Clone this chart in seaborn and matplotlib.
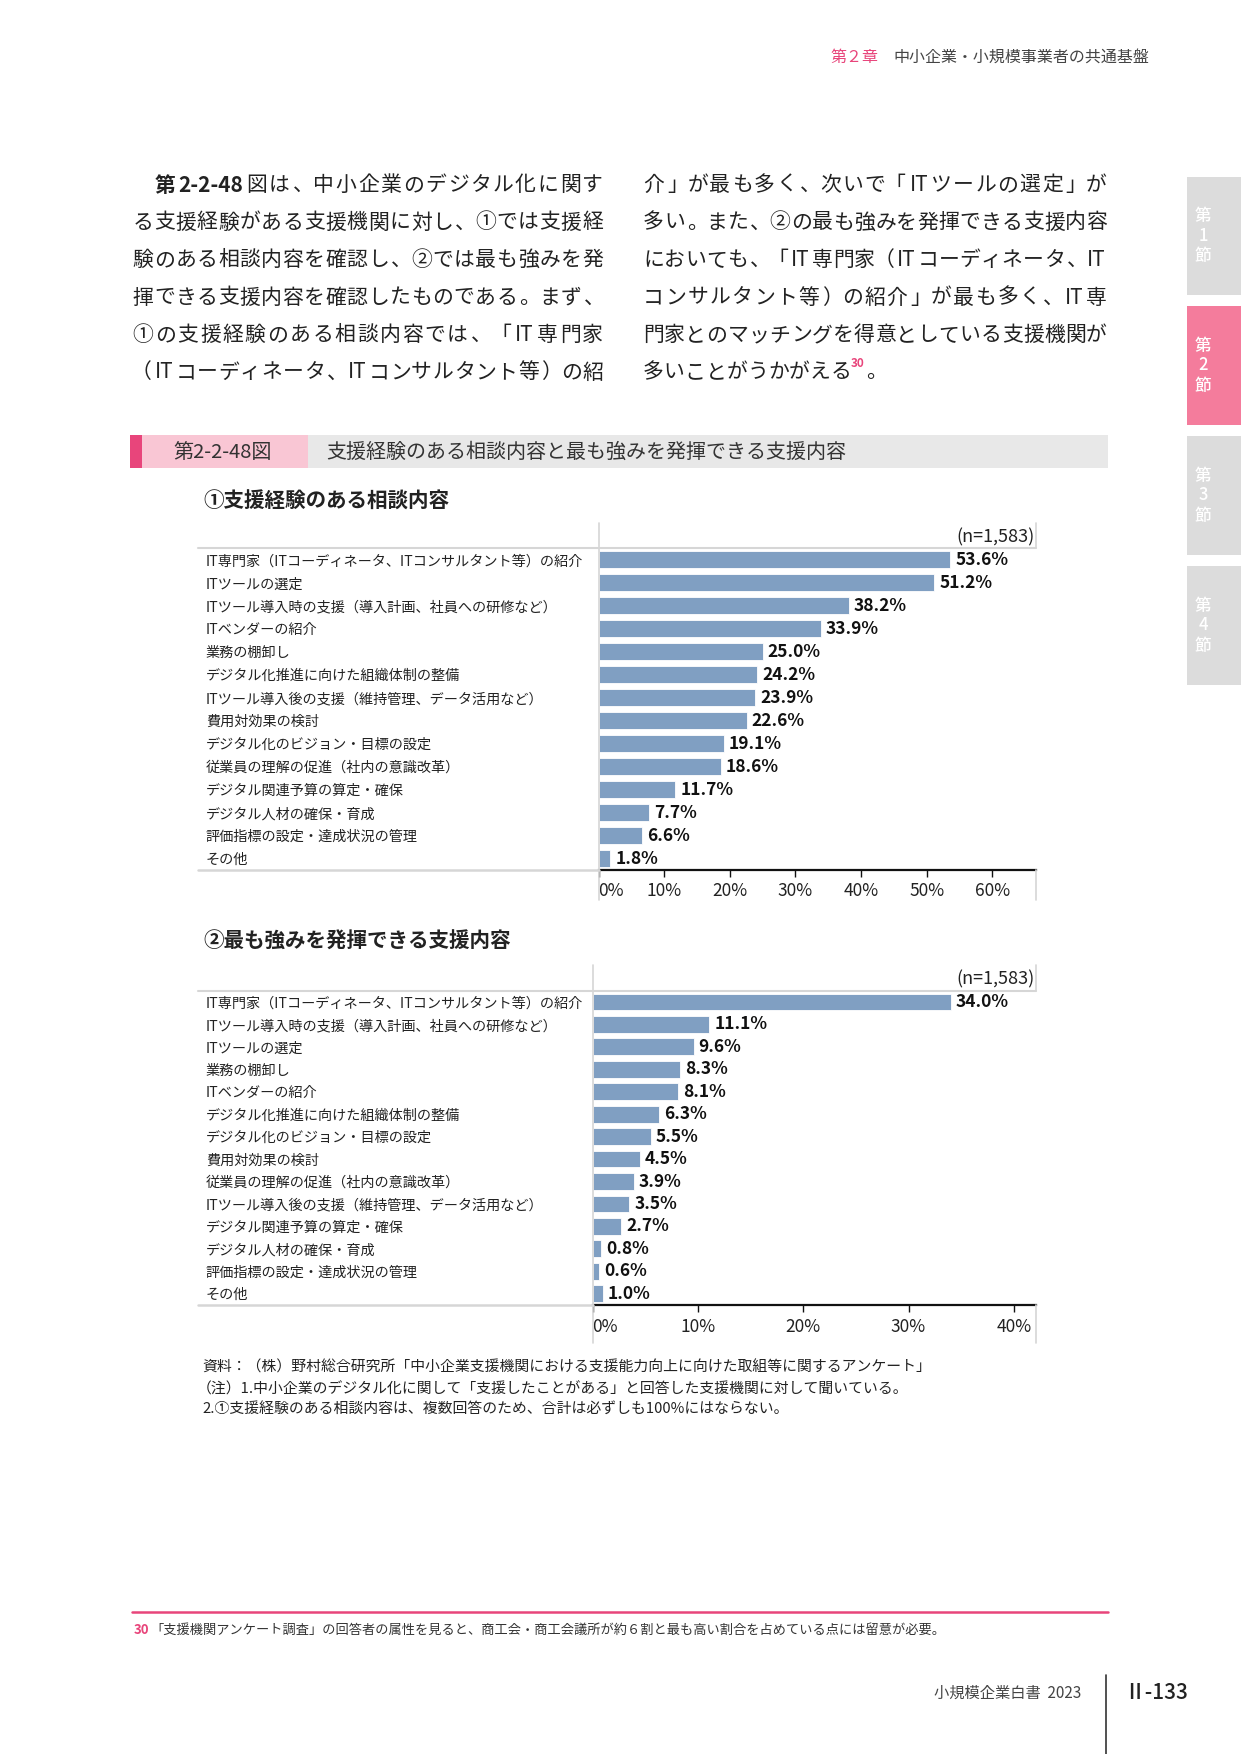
import re
import matplotlib
matplotlib.use("Agg")
import matplotlib.pyplot as plt
import seaborn as sns
import pandas as pd
from matplotlib.lines import Line2D
from matplotlib.patches import Rectangle

# ---- data ----
cats1 = ["IT専門家（ITコーディネータ、ITコンサルタント等）の紹介", "ITツールの選定",
         "ITツール導入時の支援（導入計画、社員への研修など）", "ITベンダーの紹介", "業務の棚卸し",
         "デジタル化推進に向けた組織体制の整備", "ITツール導入後の支援（維持管理、データ活用など）",
         "費用対効果の検討", "デジタル化のビジョン・目標の設定", "従業員の理解の促進（社内の意識改革）",
         "デジタル関連予算の算定・確保", "デジタル人材の確保・育成", "評価指標の設定・達成状況の管理", "その他"]
vals1 = [53.6, 51.2, 38.2, 33.9, 25.0, 24.2, 23.9, 22.6, 19.1, 18.6, 11.7, 7.7, 6.6, 1.8]

cats2 = ["IT専門家（ITコーディネータ、ITコンサルタント等）の紹介",
         "ITツール導入時の支援（導入計画、社員への研修など）", "ITツールの選定", "業務の棚卸し",
         "ITベンダーの紹介", "デジタル化推進に向けた組織体制の整備", "デジタル化のビジョン・目標の設定",
         "費用対効果の検討", "従業員の理解の促進（社内の意識改革）",
         "ITツール導入後の支援（維持管理、データ活用など）", "デジタル関連予算の算定・確保",
         "デジタル人材の確保・育成", "評価指標の設定・達成状況の管理", "その他"]
vals2 = [34.0, 11.1, 9.6, 8.3, 8.1, 6.3, 5.5, 4.5, 3.9, 3.5, 2.7, 0.8, 0.6, 1.0]

ticks1 = [0, 10, 20, 30, 40, 50, 60]
ticks2 = [0, 10, 20, 30, 40]
n_label = "(n=1,583)"

left_par = ["　第2-2-48図は、中小企業のデジタル化に関す",
            "る支援経験がある支援機関に対し、①では支援経",
            "験のある相談内容を確認し、②では最も強みを発",
            "揮できる支援内容を確認したものである。まず、",
            "①の支援経験のある相談内容では、「IT専門家",
            "（ITコーディネータ、ITコンサルタント等）の紹"]
right_par = ["介」が最も多く、次いで「ITツールの選定」が",
             "多い。また、②の最も強みを発揮できる支援内容",
             "においても、「IT専門家（ITコーディネータ、IT",
             "コンサルタント等）の紹介」が最も多く、IT専",
             "門家とのマッチングを得意としている支援機関が"]
notes = ["資料：（株）野村総合研究所「中小企業支援機関における支援能力向上に向けた取組等に関するアンケート」",
         "（注）1.中小企業のデジタル化に関して「支援したことがある」と回答した支援機関に対して聞いている。",
         "2.①支援経験のある相談内容は、複数回答のため、合計は必ずしも100%にはならない。"]

PINK = "#e8457b"
BAR = "#809fc2"
TXT = "#222222"
GRID = "#d6d6d6"

W, H = 1241, 1754

def fx(x):
    return x / W

def fy(y):
    return 1 - y / H

sns.set_theme(style="white")
plt.rcParams["font.family"] = ["Noto Sans CJK JP", "DejaVu Sans"]

fig = plt.figure(figsize=(W / 100, H / 100), dpi=100)
renderer = fig.canvas.get_renderer()


def hline(x0, x1, y, color, lw):
    fig.add_artist(Line2D([fx(x0), fx(x1)], [fy(y), fy(y)], color=color, lw=lw))


def vline(x, y0, y1, color, lw):
    fig.add_artist(Line2D([fx(x), fx(x)], [fy(y0), fy(y1)], color=color, lw=lw))


def put_line(x0, x1, y, s, justify=True, nbold=0, size=15):
    # lay out a line of Japanese text char by char, spreading it to the column width
    em = size * 100 / 72
    toks = re.findall(r"[A-Za-z0-9\-]+|.", s)
    items = []
    for i, t in enumerate(toks):
        wt = "bold" if i < nbold else "normal"
        txt = fig.text(0, fy(y), t, fontsize=size, color=TXT, va="center", weight=wt)
        if t.isascii():
            w = txt.get_window_extent(renderer).width + 0.12 * em
        else:
            w = em
        items.append((txt, t, w))
    gap = 0
    if justify and len(items) > 1:
        gap = (x1 - x0 - sum(w for _, _, w in items)) / (len(items) - 1)
    x = x0
    for txt, t, w in items:
        if t.isascii():
            txt.set_ha("left"); txt.set_x(fx(x + 0.04 * em))
        elif t in "、。」）":
            txt.set_ha("left"); txt.set_x(fx(x + 0.08 * em))
        elif t in "「（":
            txt.set_ha("right"); txt.set_x(fx(x + 0.92 * em))
        else:
            txt.set_ha("center"); txt.set_x(fx(x + em / 2))
        x += w + gap
    return x


# ---- header ----
fig.text(fx(830), fy(57), "第２章", fontsize=11.5, color=PINK, va="center")
fig.text(fx(893), fy(57), "中小企業・小規模事業者の共通基盤", fontsize=11.5, color="#444444", va="center")

# side tabs
tabs = [(177, 295, "#dcdcdc", "1"), (306, 425, "#f47c9c", "2"),
        (436, 555, "#dcdcdc", "3"), (566, 685, "#dcdcdc", "4")]
for y0, y1, c, num in tabs:
    fig.add_artist(Rectangle((fx(1187), fy(y1)), fx(W - 1187), (y1 - y0) / H, color=c, lw=0))
    ym = (y0 + y1) / 2
    for k, ch in enumerate(["第", num, "節"]):
        fig.text(fx(1203), fy(ym + (k - 1) * 20), ch, fontsize=12, color="white",
                 ha="center", va="center", weight="medium")

# ---- body text ----
ys = [185, 222.5, 260, 297.5, 335, 372.5]
for i, s in enumerate(left_par):
    if i == 0:
        put_line(132.5, 603, ys[i], s, nbold=3)
    else:
        put_line(132.5, 603, ys[i], s)
for i, s in enumerate(right_par):
    put_line(643, 1107, ys[i], s)
xe = put_line(643, 1107, ys[5], "多いことがうかがえる", justify=False)
fig.text(fx(xe - 1), fy(ys[5] - 9), "30", fontsize=8.5, color=PINK, weight="bold", va="center")
fig.text(fx(xe + 15), fy(ys[5]), "。", fontsize=15, color=TXT, va="center")

# ---- figure title bar ----
fig.add_artist(Rectangle((fx(130), fy(468)), fx(12), 33 / H, color=PINK, lw=0))
fig.add_artist(Rectangle((fx(142), fy(468)), fx(166), 33 / H, color="#f9c6d4", lw=0))
fig.add_artist(Rectangle((fx(308), fy(468)), fx(800), 33 / H, color="#e8e8e8", lw=0))
fig.text(fx(173), fy(452), "第2-2-48図", fontsize=14.5, color="#333333", va="center")
fig.text(fx(326), fy(452), "支援経験のある相談内容と最も強みを発揮できる支援内容",
         fontsize=14.4, color="#333333", va="center")

fig.text(fx(203), fy(501), "①支援経験のある相談内容", fontsize=14.8, weight="bold", color=TXT, va="center")
fig.text(fx(203), fy(941), "②最も強みを発揮できる支援内容", fontsize=14.8, weight="bold", color=TXT, va="center")


def bar_chart(cats, vals, ticks, xmax, left, top, bottom, frame_top, frame_bottom):
    right = 1035.5
    ax = fig.add_axes([fx(left), fy(bottom), (right - left) / W, (bottom - top) / H])
    df = pd.DataFrame({"item": cats, "pct": vals})
    sns.barplot(data=df, x="pct", y="item", orient="h", color=BAR, saturation=1,
                width=0.75, edgecolor="white", linewidth=0.6, ax=ax)
    ax.set_xlim(0, xmax)
    ax.set_ylim(len(cats) - 0.5, -0.5)
    ax.set_xlabel("")
    ax.set_ylabel("")
    for side in ["top", "right", "left"]:
        ax.spines[side].set_visible(False)
    ax.spines["bottom"].set_color("#111111")
    ax.spines["bottom"].set_linewidth(1.6)
    ax.set_xticks(ticks, labels=[f"{t}%" for t in ticks])
    ax.tick_params(axis="x", bottom=True, direction="out", length=5, width=1, color="#111111",
                   labelsize=12.5, labelcolor=TXT, pad=4)
    ax.get_xticklabels()[0].set_ha("left")
    ax.tick_params(axis="y", left=False, length=0, pad=(left - 206) * 0.72,
                   labelsize=10.2, labelcolor=TXT)
    for t in ax.get_yticklabels():
        t.set_ha("left")
    ax.bar_label(ax.containers[0], labels=[f"{v:.1f}%" for v in vals], padding=3.5,
                 fontsize=12.5, fontweight="bold", color="#111111")
    # frame lines of the chart block
    hline(198, right, top, GRID, 1.5)
    hline(198, left, bottom, GRID, 1.8)
    vline(left, frame_top, frame_bottom, GRID, 1.2)
    vline(right, frame_top, top, GRID, 1.2)
    vline(right, bottom, frame_bottom, GRID, 1.2)
    fig.text(fx(right - 1), fy(top - 11), n_label, fontsize=13, color=TXT, ha="right", va="center")
    return ax


bar_chart(cats1, vals1, ticks1, 66.6, 598.6, 548.3, 870, 523, 900)
bar_chart(cats2, vals2, ticks2, 42.06, 592.6, 990.7, 1305, 965, 1343)

# ---- notes ----
note_y = [1367, 1389, 1409]
note_x = [202, 197, 202]
for x, y, s in zip(note_x, note_y, notes):
    fig.text(fx(x), fy(y), s, fontsize=10.7, color=TXT, va="center")

# ---- footnote ----
hline(132, 1108, 1612, PINK, 1.8)
fig.text(fx(134), fy(1630), "30", fontsize=9.5, color=PINK, weight="bold", va="center")
fig.text(fx(150), fy(1630),
         "「支援機関アンケート調査」の回答者の属性を見ると、商工会・商工会議所が約６割と最も高い割合を占めている点には留意が必要。",
         fontsize=9.5, color="#333333", va="center")

# ---- footer ----
fig.text(fx(934), fy(1693), "小規模企業白書  2023", fontsize=11, color="#444444", va="center")
vline(1106, 1675, 1754, "#333333", 1.2)
fig.text(fx(1124), fy(1693), "Ⅱ-133", fontsize=15, color="#222222", va="center", weight="medium")

fig.savefig("out.png", dpi=100)
